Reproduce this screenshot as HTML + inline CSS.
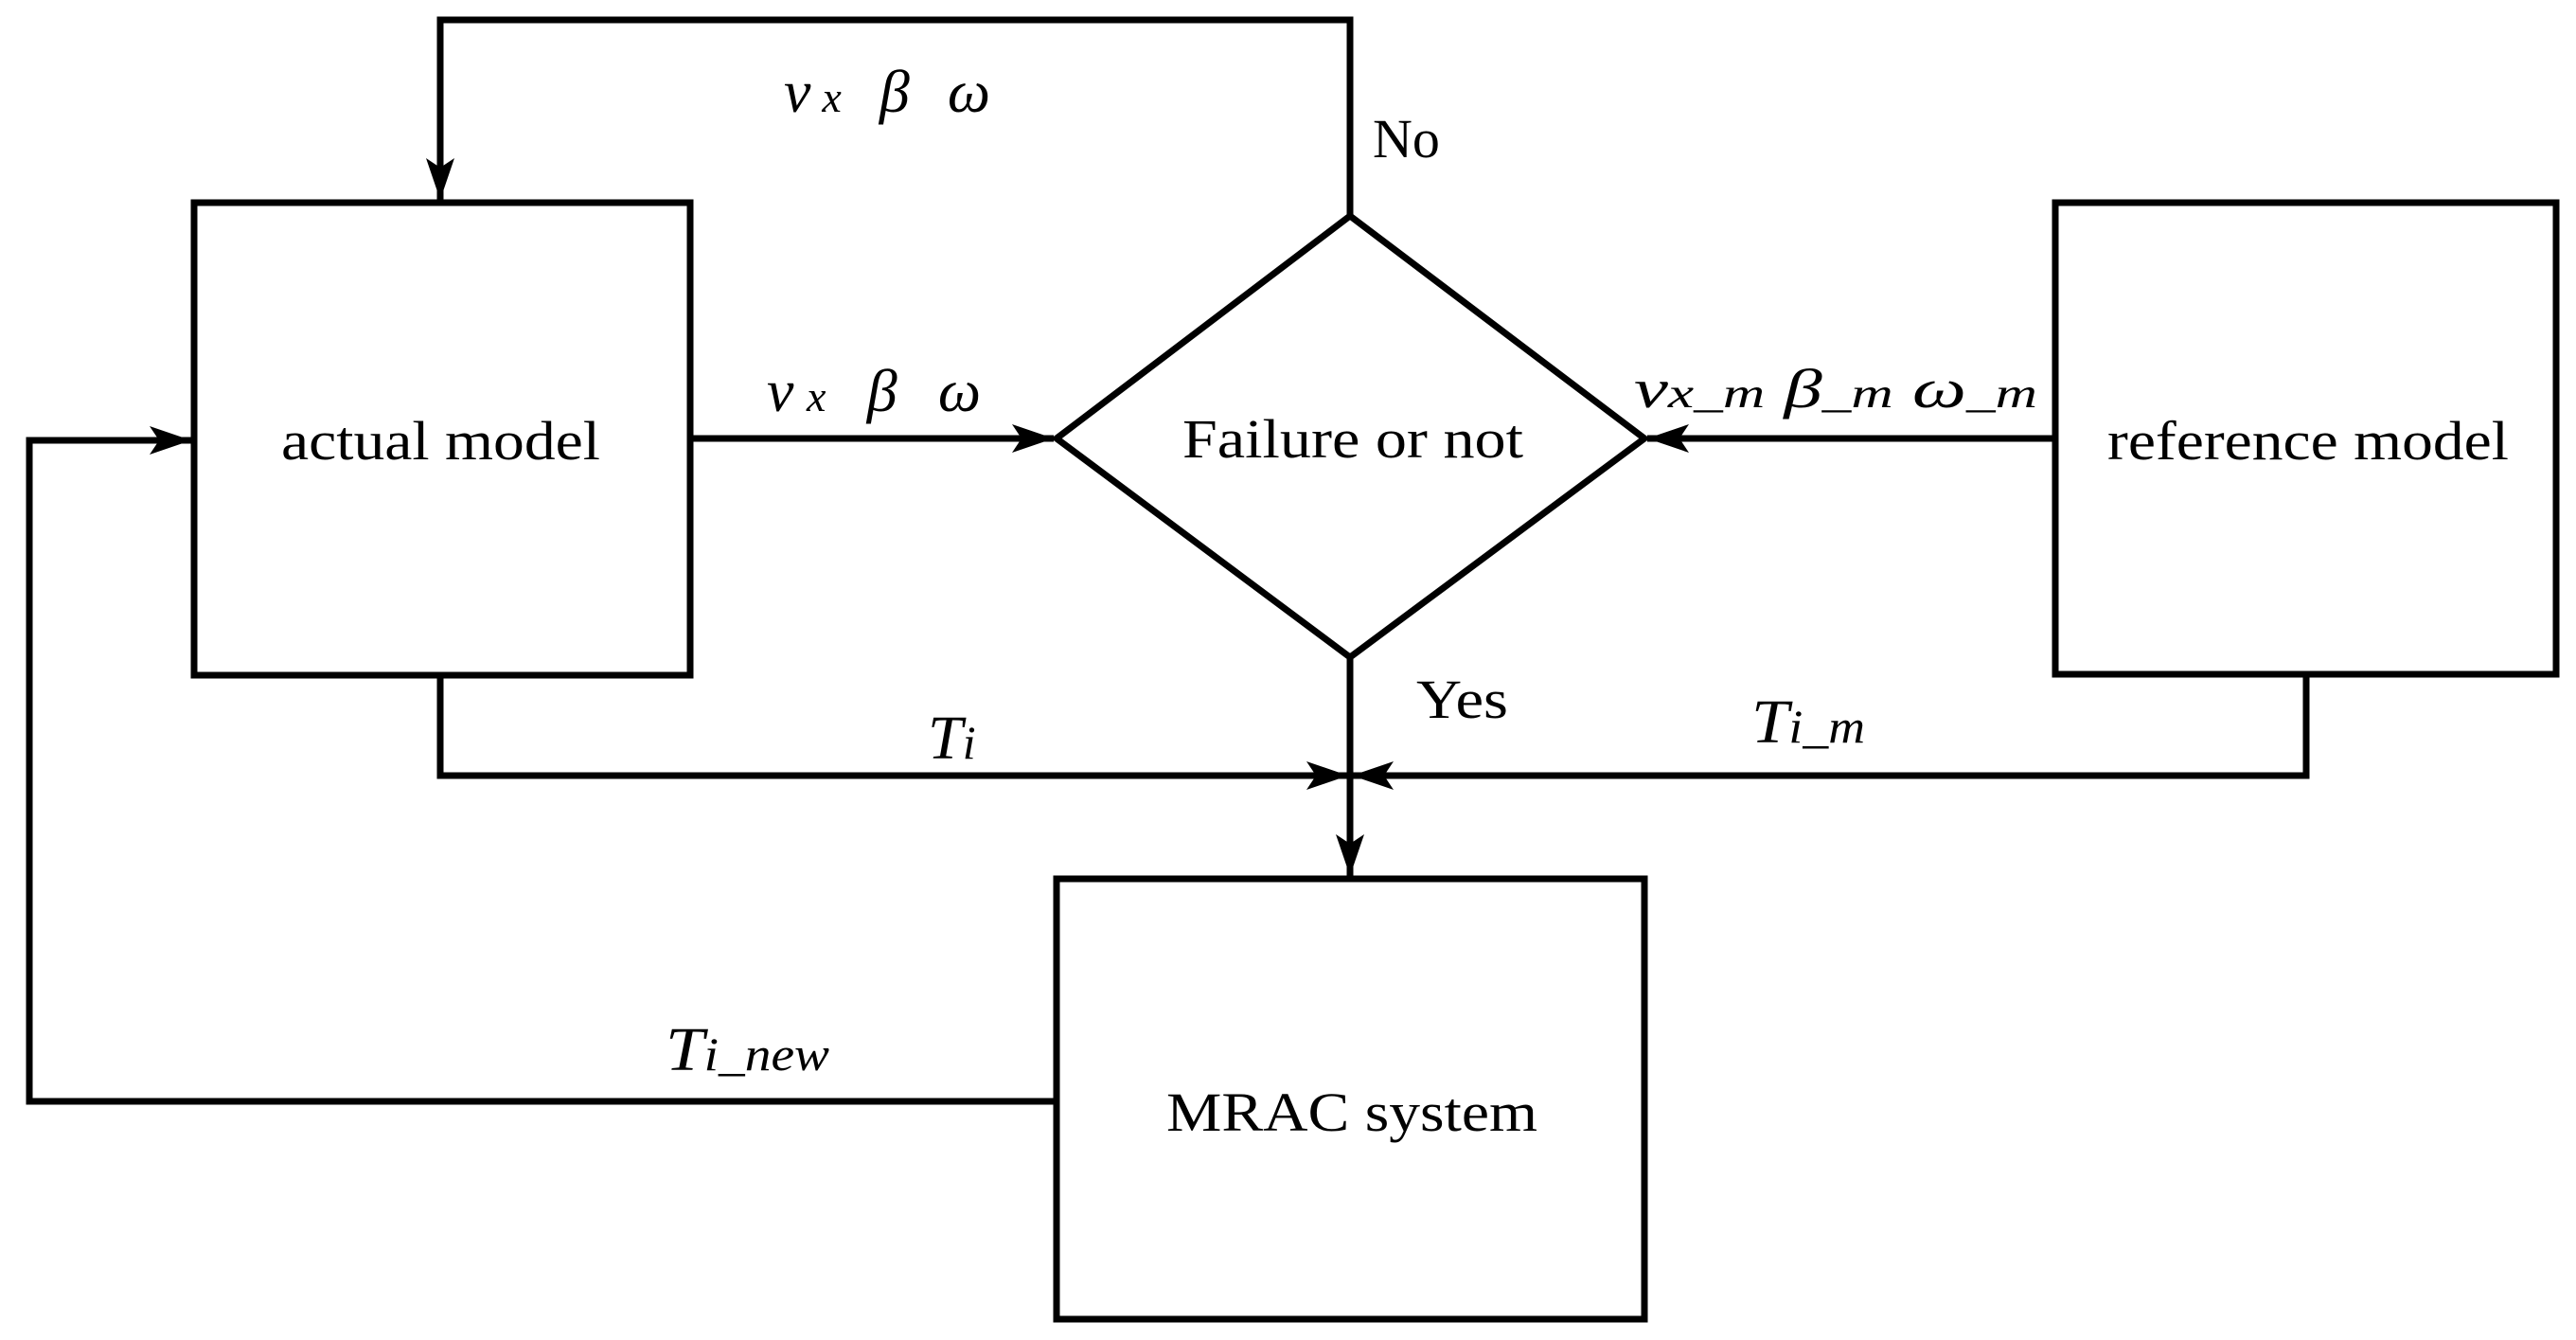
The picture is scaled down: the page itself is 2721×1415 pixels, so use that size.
<!DOCTYPE html>
<html><head><meta charset="utf-8"><style>
html,body{margin:0;padding:0;background:#fff}
svg{display:block}
text{font-family:"Liberation Serif","Times New Roman",serif;fill:#000}
.i{font-style:italic}
</style></head><body>
<svg width="2721" height="1415" viewBox="0 0 2721 1415" xmlns="http://www.w3.org/2000/svg">
<defs>
<marker id="a" markerWidth="44" markerHeight="30" refX="44" refY="15" orient="auto" markerUnits="userSpaceOnUse">
<path d="M0,0 L44,15 L0,30 L10,15 Z" fill="#000"/>
</marker>
</defs>
<g stroke="#000" stroke-width="7" fill="none">
<rect x="205" y="214" width="524" height="499"/>
<rect x="2171" y="214" width="529" height="498"/>
<rect x="1116" y="928" width="621" height="465"/>
<polygon points="1426,228 1737,463 1426,694 1116,463"/>
<polyline points="1426,228 1426,21 465,21 465,211" marker-end="url(#a)"/>
<line x1="729" y1="463" x2="1113" y2="463" marker-end="url(#a)"/>
<line x1="2171" y1="463" x2="1740" y2="463" marker-end="url(#a)"/>
<polyline points="1116,1163 31,1163 31,465 202,465" marker-end="url(#a)"/>
<polyline points="465,713 465,819 1424,819" marker-end="url(#a)"/>
<polyline points="2436,712 2436,819 1428,819" marker-end="url(#a)"/>
<line x1="1426" y1="694" x2="1426" y2="925" marker-end="url(#a)"/>
</g>
<text x="297" y="485" font-size="58" textLength="337" lengthAdjust="spacingAndGlyphs">actual model</text>
<text x="1249" y="483" font-size="58" textLength="360" lengthAdjust="spacingAndGlyphs">Failure or not</text>
<text x="2226" y="485" font-size="58" textLength="424" lengthAdjust="spacingAndGlyphs">reference model</text>
<text x="1232" y="1194" font-size="58" textLength="392" lengthAdjust="spacingAndGlyphs">MRAC system</text>
<text x="1450" y="166" font-size="58">No</text>
<text x="1496" y="758" font-size="58" textLength="97" lengthAdjust="spacingAndGlyphs">Yes</text>
<text class="i" x="828" y="118" font-size="64" textLength="218" lengthAdjust="spacing">v<tspan font-size="46">x</tspan>  β  ω</text>
<text class="i" x="810" y="434" font-size="64" textLength="226" lengthAdjust="spacing">v<tspan font-size="46">x</tspan>  β  ω</text>
<text class="i" x="1726" y="430" font-size="58" textLength="426" lengthAdjust="spacingAndGlyphs">v<tspan font-size="44">x_m</tspan>  β<tspan font-size="44">_m</tspan> ω<tspan font-size="44">_m</tspan></text>
<text class="i" x="980" y="801" font-size="66">T<tspan font-size="50">i</tspan></text>
<text class="i" x="1850" y="784" font-size="66" textLength="120" lengthAdjust="spacingAndGlyphs">T<tspan font-size="50">i_m</tspan></text>
<text class="i" x="703" y="1130" font-size="66" textLength="173" lengthAdjust="spacingAndGlyphs">T<tspan font-size="50">i_new</tspan></text>
</svg>
</body></html>
